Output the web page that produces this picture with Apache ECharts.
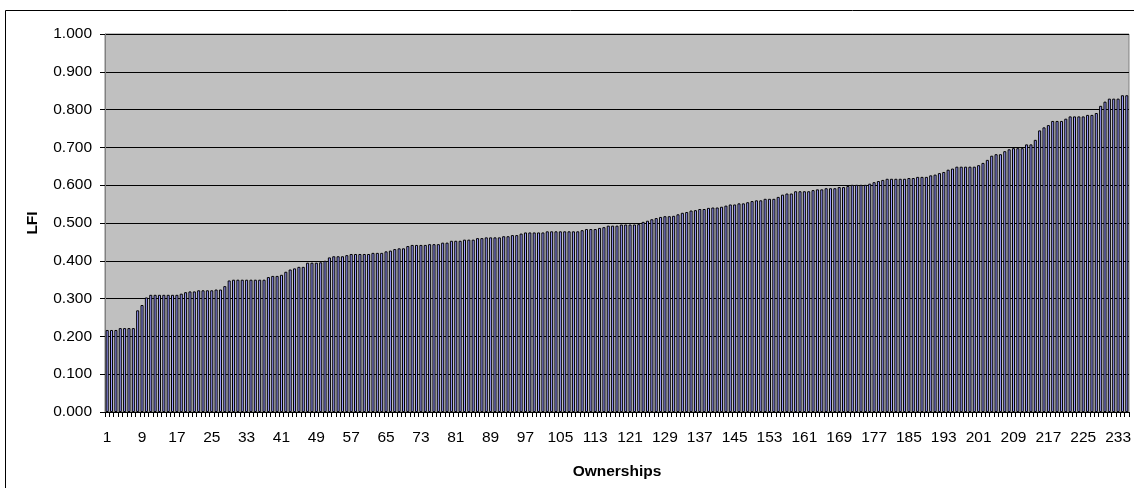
<!DOCTYPE html>
<html>
<head>
<meta charset="utf-8">
<script src="https://cdn.jsdelivr.net/npm/echarts@6/dist/echarts.min.js"></script>
<style>
html,body{margin:0;padding:0;background:#fff;}
#c{width:1134px;height:488px;}
</style>
</head>
<body>
<div id="c"></div>
<script>
// LFI value per ownership, sorted ascending
const lfiValues = [
  0.217,0.217,0.217,0.222,0.222,0.222,0.222,0.269,0.283,0.303,
  0.310,0.310,0.310,0.310,0.310,0.310,0.310,0.313,0.317,0.319,
  0.319,0.322,0.322,0.322,0.322,0.324,0.324,0.333,0.348,0.350,
  0.350,0.350,0.350,0.350,0.350,0.350,0.350,0.357,0.360,0.360,
  0.363,0.371,0.377,0.380,0.384,0.384,0.395,0.395,0.395,0.396,
  0.400,0.409,0.412,0.412,0.412,0.415,0.418,0.418,0.418,0.418,
  0.418,0.421,0.421,0.421,0.425,0.427,0.431,0.433,0.433,0.439,
  0.442,0.442,0.442,0.442,0.444,0.444,0.444,0.448,0.448,0.453,
  0.453,0.453,0.456,0.456,0.456,0.460,0.460,0.462,0.462,0.462,
  0.462,0.465,0.465,0.468,0.468,0.472,0.475,0.475,0.475,0.475,
  0.475,0.478,0.478,0.478,0.478,0.478,0.478,0.478,0.478,0.481,
  0.484,0.484,0.484,0.487,0.489,0.493,0.493,0.493,0.496,0.496,
  0.496,0.496,0.497,0.503,0.506,0.510,0.513,0.516,0.518,0.518,
  0.519,0.523,0.527,0.529,0.533,0.534,0.537,0.537,0.540,0.541,
  0.541,0.543,0.546,0.549,0.549,0.552,0.552,0.555,0.558,0.560,
  0.560,0.564,0.564,0.564,0.569,0.575,0.578,0.578,0.584,0.584,
  0.584,0.584,0.587,0.589,0.589,0.592,0.592,0.592,0.595,0.595,
  0.598,0.601,0.601,0.601,0.601,0.604,0.608,0.611,0.614,0.617,
  0.617,0.617,0.617,0.617,0.619,0.619,0.622,0.622,0.622,0.626,
  0.628,0.632,0.635,0.641,0.644,0.649,0.649,0.649,0.649,0.649,
  0.653,0.659,0.667,0.678,0.682,0.682,0.690,0.695,0.698,0.698,
  0.698,0.708,0.708,0.720,0.745,0.753,0.759,0.770,0.770,0.770,
  0.776,0.782,0.782,0.782,0.782,0.786,0.786,0.791,0.810,0.821,
  0.829,0.829,0.829,0.838,0.838
];
// category labels: ownership numbers 1..N
const ownerships = lfiValues.map((_, i) => String(i + 1));
const yTicks = { min: 0, max: 1, interval: 0.1 };
const xTitle = 'Ownerships';
const yTitle = 'LFI';

const chart = echarts.init(document.getElementById('c'), null, {renderer: 'canvas'});
const font = 'Liberation Sans, Arial, sans-serif';
chart.setOption({
  animation: false,
  backgroundColor: '#ffffff',
  graphic: [{
    type: 'rect', silent: true, z: -10,
    shape: {x: 5.5, y: 10.5, width: 1300, height: 700},
    style: {fill: 'none', stroke: '#000000', lineWidth: 1}
  }],
  grid: {
    left: 105, top: 34, right: 0, bottom: 76,
    show: true, backgroundColor: '#C0C0C0', borderColor: '#808080', borderWidth: 1
  },
  xAxis: {
    type: 'category',
    data: ownerships,
    name: xTitle,
    nameLocation: 'middle',
    nameGap: 52,
    nameTextStyle: {fontFamily: font, fontSize: 15.5, fontWeight: 'bold', color: '#000'},
    axisLine: {lineStyle: {color: '#000', width: 1}},
    axisTick: {show: true, interval: 0, length: 5, lineStyle: {color: '#000'}},
    axisLabel: {interval: 7, fontFamily: font, fontSize: 15.5, color: '#000', margin: 18},
    splitLine: {show: false}
  },
  yAxis: {
    type: 'value',
    min: yTicks.min, max: yTicks.max, interval: yTicks.interval,
    name: yTitle,
    nameLocation: 'middle',
    nameGap: 64,
    nameRotate: 90,
    nameTextStyle: {fontFamily: font, fontSize: 15.5, fontWeight: 'bold', color: '#000'},
    axisLine: {show: true, lineStyle: {color: '#808080', width: 1}},
    axisTick: {show: true, length: 5, lineStyle: {color: '#000'}},
    axisLabel: {fontFamily: font, fontSize: 15.5, color: '#000', margin: 13,
      formatter: v => v.toFixed(3)},
    splitLine: {show: true, lineStyle: {color: '#000', width: 1}}
  },
  series: [{
    type: 'bar',
    data: lfiValues,
    barCategoryGap: '30%',
    itemStyle: {color: '#9999FF', borderColor: '#000000', borderWidth: 1}
  }]
});
</script>
</body>
</html>
